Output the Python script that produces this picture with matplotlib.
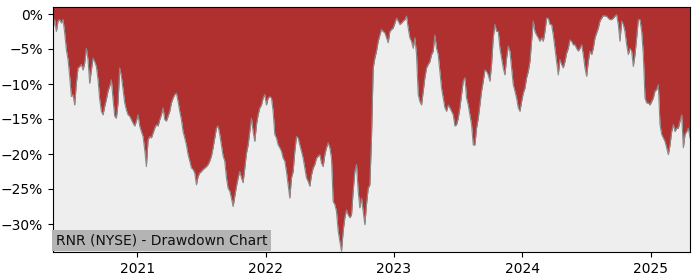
import matplotlib
matplotlib.use("Agg")
import matplotlib.pyplot as plt
import matplotlib.dates as mdates
from matplotlib.ticker import PercentFormatter
import pandas as pd

start_date = "2020-05-06"
end_date = "2025-04-23"

drawdown_pct = [
    -2.2, -0.8, -2.5, -1.0, -0.8, -1.3, -0.8, -2.7, -5.1, -6.5,
    -8.9, -11.8, -11.5, -13.0, -9.9, -7.7, -7.5, -7.2, -8.0, -7.0,
    -4.9, -6.5, -9.9, -8.0, -6.3, -6.8, -7.5, -9.4, -12.2, -13.9,
    -14.4, -13.2, -12.2, -11.0, -10.3, -9.4, -12.2, -14.6, -14.9, -12.7,
    -7.7, -8.9, -10.8, -12.7, -13.7, -14.4, -14.6, -15.1, -15.6, -16.0,
    -15.3, -14.4, -16.0, -16.8, -17.5, -19.4, -21.8, -18.0, -17.5, -17.7,
    -17.0, -16.3, -15.8, -16.0, -15.1,
    -14.4, -13.4, -15.1, -15.3, -14.6, -13.9, -12.7, -12.0, -11.5, -11.3,
    -12.5, -13.9, -15.1, -16.8, -17.7, -18.7, -20.1, -21.0, -22.0, -22.2,
    -22.7, -24.4, -23.2, -22.7, -22.5, -22.2, -22.0, -21.8, -21.5, -21.0,
    -20.3, -19.1, -17.7, -16.3, -16.0, -17.2, -18.7, -20.3, -21.0, -23.4,
    -24.9, -25.3, -26.3, -27.5, -26.0, -24.6, -23.4, -22.5, -23.4, -24.1,
    -22.0, -19.9, -18.7, -16.8, -14.9, -16.8, -18.2, -15.8, -14.4, -13.4,
    -13.0, -12.0,
    -11.5, -13.0, -12.0, -11.8, -12.0, -13.9, -17.2, -17.7, -18.7, -19.1,
    -19.6, -20.6, -21.0, -22.5, -24.4, -26.3, -23.4, -22.5, -19.6, -17.5,
    -17.7, -18.7, -19.6, -20.6, -22.0, -23.4, -23.9, -24.6, -23.0, -22.0,
    -21.5, -20.6, -20.3, -20.1, -21.3, -21.8, -20.1, -19.1, -18.4, -19.1,
    -20.6, -26.8, -27.2, -28.2, -31.0, -32.5, -33.9, -31.0, -29.1, -28.0,
    -28.7, -29.1, -28.7, -25.3, -22.5, -21.5, -25.3, -27.7, -26.3, -28.2,
    -30.1, -27.2, -24.9,
    -24.4, -17.7, -7.7, -6.3, -5.3, -3.9, -3.0, -2.2, -2.5, -2.7,
    -3.4, -4.1, -2.5, -2.2, -2.0, -1.3, -0.6, -1.0, -1.5, -1.3,
    -1.0, -0.8, -0.3, -2.0, -3.4, -3.9, -4.9, -3.4, -5.8, -11.5,
    -12.5, -13.0, -11.0, -9.1, -7.7, -7.2, -6.8, -5.8, -5.3, -3.0,
    -4.9, -5.8, -8.2, -10.6, -12.0, -13.4, -13.9, -13.0, -13.4, -13.9,
    -14.4, -16.0, -15.8, -14.9, -13.4, -11.5, -9.6, -9.1, -12.0, -13.0,
    -14.4, -15.8, -18.7,
    -18.7, -16.3, -14.9, -13.0, -11.0, -9.6, -8.0, -8.2, -8.7, -9.6,
    -7.2, -3.4, -1.5, -2.5, -2.5, -4.9, -6.3, -7.7, -8.7, -6.3,
    -4.6, -5.3, -7.7, -10.1, -11.0, -12.0, -13.4, -13.9, -12.5, -11.3,
    -10.6, -9.1, -8.2, -6.8, -3.9, -1.0, -2.5, -3.0, -3.4, -3.9,
    -3.4, -3.9, -2.5, -0.6, -0.6, -1.5, -1.5, -3.0, -4.9, -6.8,
    -8.7, -6.5, -7.2, -7.7, -6.8, -5.6, -4.9, -3.7, -3.9, -4.4,
    -4.4, -4.9, -5.3,
    -4.9, -4.4, -5.8, -7.7, -8.9, -6.8, -5.3, -5.8, -4.9, -3.4,
    -2.7, -2.0, -1.0, -0.6, -0.2, -0.3, -0.3, -0.6, -0.8, -0.8,
    -0.6, -0.3, -0.1, -1.5, -3.9, -1.0, -1.5, -2.5, -4.4, -5.8,
    -4.9, -5.3, -7.5, -5.8, -3.4, -0.8, -0.8, -2.5, -5.8, -12.0,
    -12.7, -12.7, -13.0, -12.5, -12.0, -11.0, -10.8, -10.1, -15.8, -17.2,
    -17.7, -18.2, -19.1, -20.1, -18.7, -16.8, -15.8, -16.8, -16.3, -16.3,
    -15.3, -14.4, -19.1, -17.2, -16.8, -16.3, -17.7,
]

title_text = "RNR (NYSE) - Drawdown Chart"

dates = pd.date_range(start_date, end_date, periods=len(drawdown_pct))

fig = plt.figure(figsize=(7, 2.8), dpi=100)
ax = fig.add_axes([53 / 700, 1 - 252 / 280, (690 - 53) / 700, (252 - 7) / 280])
ax.set_facecolor("#eeeeee")

y_top = 1
ax.fill_between(dates, drawdown_pct, y_top, color="#b03030", linewidth=0)
ax.plot(dates, drawdown_pct, color="#8a8a8a", linewidth=0.8)

ax.set_xlim(dates[0], dates[-1])
ax.set_ylim(-34, y_top)
ax.set_yticks([0, -5, -10, -15, -20, -25, -30])
ax.yaxis.set_major_formatter(PercentFormatter(xmax=100, decimals=0))
ax.xaxis.set_major_locator(mdates.YearLocator())
ax.xaxis.set_major_formatter(mdates.DateFormatter("%Y"))
ax.tick_params(labelsize=10)

ax.text(0.004, 0.018, title_text, transform=ax.transAxes, fontsize=10,
        ha="left", va="bottom", color="#111111",
        bbox=dict(facecolor="#b4b4b4", edgecolor="none", pad=2.5))

fig.savefig("out.png", dpi=100)
